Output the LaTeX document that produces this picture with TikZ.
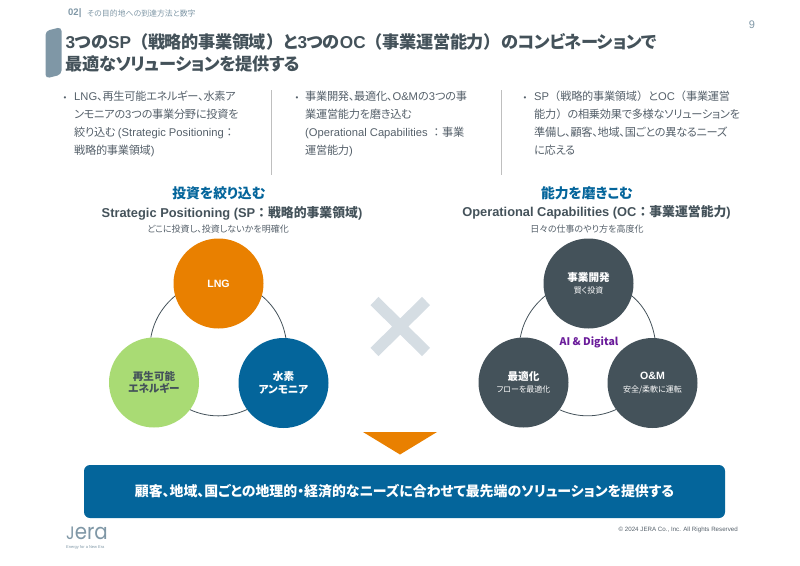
\documentclass[tikz,border=0pt]{standalone}
\usepackage{fontspec}
\usepackage{xcolor}
\usetikzlibrary{positioning}
\setmainfont{Liberation Sans}
\newfontfamily\jp[RawFeature=+palt]{Noto Sans CJK JP}
\newfontfamily\jpt[RawFeature=+palt, LetterSpace=-2.5]{Noto Sans CJK JP}
\newfontfamily\jpw{Noto Sans CJK JP}
\newfontfamily\logofont{Poppins}
\newcommand{\en}[1]{{\rmfamily #1}}
\newcommand{\lp}{{\jpw （}}
\newcommand{\rp}{{\jpw ）}}
\newcommand{\co}{{\jpw ：}}
\definecolor{jeraBlue}{HTML}{04659B}
\definecolor{jeraSlate}{HTML}{44525A}
\definecolor{jeraOrange}{HTML}{E98000}
\definecolor{jeraGreen}{HTML}{A9DB74}
\definecolor{jeraSteel}{HTML}{7F97A6}
\definecolor{jeraGray}{HTML}{55606A}
\definecolor{crossGray}{HTML}{D5DDE3}
\definecolor{aiPurple}{HTML}{6A1B9A}

\begin{document}
\begin{tikzpicture}[
    x=1pt, y=-1pt,
    every node/.style={inner sep=0pt, font=\jp},
    sp/.style={circle, minimum size=90pt, text=white, align=center, font=\jp\bfseries\fontsize{10.6}{12.5}\selectfont},
    oc/.style={sp, fill=jeraSlate},
    ring/.style={draw=jeraSlate, line width=0.8pt, looseness=0.9},
    body/.style={anchor=north west, align=left, text=jeraGray, font=\jpt\fontsize{11.2}{18}\selectfont},
    bullet/.style={text=jeraGray, font=\rmfamily\fontsize{8}{10}\selectfont},
    sep/.style={draw=black!25, line width=0.8pt},
    headline/.style={text=jeraBlue, font=\jp\bfseries\fontsize{13.8}{16}\selectfont},
    subhead/.style={text=jeraSlate, font=\jp\bfseries\fontsize{12.85}{15}\selectfont},
    note/.style={text=jeraGray, font=\jp\fontsize{9}{11}\selectfont}
]
\useasboundingbox (0,0) rectangle (800,565);
% page head
\node[anchor=west, text=jeraSteel, font=\rmfamily\bfseries\fontsize{9.5}{11}\selectfont] (secnum) at (68,13.5) {02|};
\node[anchor=west, text=jeraSteel, font=\jp\fontsize{7.9}{9}\selectfont] (sectitle) at (87,13.5) {その目的地への到達方法と数字};
\node[text=jeraSteel, font=\rmfamily\fontsize{11}{13}\selectfont] (pageno) at (752,25) {9};
\fill[jeraSteel, rounded corners=4pt] (45.5,31) -- (61.5,27) -- (61.5,74.5) -- (45.5,78.5) -- cycle;
\node[anchor=north west, align=left, text=jeraSlate, font=\jpt\bfseries\fontsize{17.2}{22}\selectfont] (title) at (65.5,33.5)
    {\en{3}つの\en{SP}\lp 戦略的事業領域\rp と\en{3}つの\en{OC}\lp 事業運営能力\rp のコンビネーションで\\最適なソリューションを提供する};

% three columns
\node[bullet] (dota) at (65,98.5) {•};
\node[body] (cola) at (74,90.5) {\en{LNG}、再生可能エネルギー、水素ア\\ンモニアの\en{3}つの事業分野に投資を\\絞り込む \en{(Strategic Positioning}\co\\戦略的事業領域\en{)}};
\node[bullet] (dotb) at (297,98.5) {•};
\node[body] (colb) at (305,90.5) {事業開発、最適化、\en{O\&M}の\en{3}つの事\\業運営能力を磨き込む\\\en{(Operational Capabilities }\co 事業\\運営能力\en{)}};
\node[bullet] (dotc) at (525,98.5) {•};
\node[body] (colc) at (534,90.5) {\en{SP}\lp 戦略的事業領域\rp と\en{OC}\lp 事業運営\\能力\rp の相乗効果で多様なソリューションを\\準備し、顧客、地域、国ごとの異なるニーズ\\に応える};
\draw[sep] (271,90) -- (271,175);
\draw[sep] (501,90) -- (501,175);

% left side
\node[headline] (headsp) at (219,193) {投資を絞り込む};
\node[subhead] (subsp) at (232,213) {\en{Strategic Positioning (SP}\co 戦略的事業領域\en{)}};
\node[note] (notesp) at (218,229.5) {どこに投資し、投資しないかを明確化};
\node[sp, fill=jeraOrange] (lng) at (218.5,283.5) {\en{LNG}};
\node[sp, fill=jeraGreen, text=jeraSlate] (renew) at (154,382.5) {再生可能\\エネルギー};
\node[sp, fill=jeraBlue] (hydro) at (283.5,383) {水素\\アンモニア};
\draw[ring] (lng.-16) to[out=-40, in=100] (hydro.87);
\draw[ring] (hydro.216) to[out=204.5, in=-24.5] (renew.-37);
\draw[ring] (renew.94) to[out=80, in=220] (lng.196);

% cross
\draw[crossGray, line width=11.5pt] (374.5,301) -- (426,352) (426,301) -- (374.5,352);

% right side
\node[headline] (headoc) at (587,193) {能力を磨きこむ};
\node[subhead] (suboc) at (596.5,212) {\en{Operational Capabilities (OC}\co 事業運営能力\en{)}};
\node[note] (noteoc) at (587,229) {日々の仕事のやり方を高度化};
\node[oc] (biz) at (588.5,283.5) {事業開発\\{\fontsize{8}{10}\selectfont\mdseries 賢く投資}};
\node[oc] (opt) at (523.5,382.5) {最適化\\{\fontsize{8}{10}\selectfont\mdseries フローを最適化}};
\node[oc] (om) at (652.5,383) {\en{O\&M}\\{\fontsize{8}{10}\selectfont\mdseries 安全/柔軟に運転}};
\node[text=aiPurple, font=\jp\bfseries\fontsize{10.5}{13}\selectfont] (aidigital) at (589,342.5) {AI \& Digital};
\draw[ring] (biz.-16) to[out=-40, in=100] (om.87);
\draw[ring] (om.216) to[out=204.5, in=-24.5] (opt.-37);
\draw[ring] (opt.94) to[out=80, in=220] (biz.196);

% result
\fill[jeraOrange] (363,432) -- (437,432) -- (400,454.5) -- cycle;
\node[fill=jeraBlue, rounded corners=6pt, minimum width=641pt, minimum height=53pt, text=white, font=\jp\bfseries\fontsize{13.9}{16}\selectfont] (result) at (404.5,491.5) {顧客、地域、国ごとの地理的・経済的なニーズに合わせて最先端のソリューションを提供する};

% footer
\node[anchor=west, text=jeraSteel, xscale=0.9, text height=12pt, text depth=0pt, font=\logofont\fontsize{22}{22}\selectfont] (logo) at (66,533) {{\fontsize{18}{18}\selectfont J}era};
\node[anchor=west, text=jeraSteel, font=\rmfamily\fontsize{4}{5}\selectfont] (claim) at (66,547.5) {Energy for a New Era};
\node[anchor=east, text=jeraGray, font=\rmfamily\fontsize{6.2}{8}\selectfont] (copy) at (738,530) {© 2024 JERA Co., Inc. All Rights Reserved};
\end{tikzpicture}
\end{document}
